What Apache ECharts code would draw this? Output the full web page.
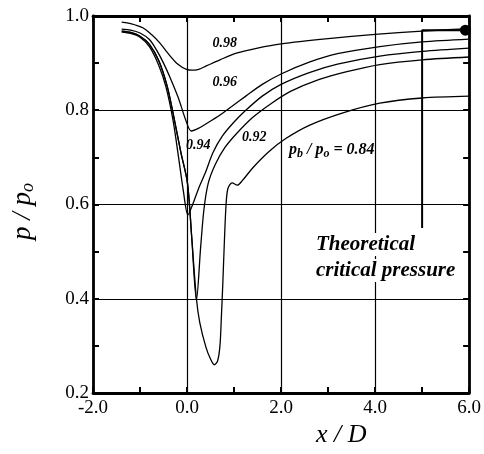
<!DOCTYPE html>
<html><head><meta charset="utf-8">
<script src="https://cdn.jsdelivr.net/npm/echarts@6/dist/echarts.min.js"></script>
<style>html,body{margin:0;padding:0;background:#fff}#c{width:484px;height:454px}</style>
</head><body><div id="c"></div>
<script>
// Curves p/po vs x/D for several back-pressure ratios pb/po
const curve098 = [[-1.39,0.987],[-1.2,0.984],[-0.94,0.975],[-0.75,0.96],[-0.58,0.943],[-0.4,0.92],[-0.2,0.898],[0.0,0.886],[0.1,0.885],[0.25,0.887],[0.41,0.894],[0.7,0.907],[1.05,0.921],[1.5,0.932],[2.0,0.941],[3.0,0.952],[4.0,0.961],[5.0,0.968],[6.0,0.973]];
const curve096 = [[-1.39,0.972],[-1.2,0.970],[-1.0,0.964],[-0.8,0.95],[-0.65,0.928],[-0.5,0.90],[-0.35,0.867],[-0.18,0.825],[-0.03,0.78],[0.09,0.756],[0.25,0.762],[0.45,0.774],[0.7,0.79],[0.95,0.808],[1.25,0.83],[1.6,0.855],[2.0,0.877],[2.6,0.902],[3.2,0.92],[4.1,0.935],[5.0,0.945],[6.0,0.951]];
const curve094 = [[-1.39,0.966],[-1.2,0.963],[-1.0,0.955],[-0.8,0.935],[-0.6,0.895],[-0.45,0.85],[-0.3,0.78],[-0.18,0.70],[-0.08,0.63],[0.02,0.578],[0.12,0.60],[0.25,0.635],[0.4,0.67],[0.55,0.71],[0.75,0.745],[1.0,0.775],[1.25,0.80],[1.6,0.83],[2.0,0.855],[2.6,0.88],[3.2,0.898],[4.1,0.915],[5.0,0.925],[6.0,0.932]];
const curve092 = [[-1.39,0.968],[-1.2,0.965],[-1.0,0.957],[-0.8,0.94],[-0.6,0.905],[-0.42,0.85],[-0.27,0.78],[-0.13,0.71],[0.01,0.645],[0.1,0.53],[0.2,0.397],[0.29,0.51],[0.36,0.59],[0.45,0.645],[0.6,0.685],[0.8,0.72],[1.05,0.75],[1.4,0.785],[1.8,0.815],[2.2,0.84],[2.8,0.865],[3.4,0.882],[4.1,0.897],[5.0,0.907],[6.0,0.913]];
const curve084 = [[-1.39,0.968],[-1.2,0.965],[-1.0,0.957],[-0.8,0.94],[-0.6,0.905],[-0.42,0.85],[-0.27,0.78],[-0.13,0.71],[0.01,0.645],[0.1,0.53],[0.2,0.40],[0.27,0.35],[0.4,0.298],[0.5,0.272],[0.58,0.26],[0.65,0.268],[0.7,0.30],[0.73,0.36],[0.76,0.43],[0.79,0.51],[0.83,0.6],[0.87,0.634],[0.96,0.646],[1.07,0.641],[1.17,0.65],[1.4,0.678],[1.75,0.713],[2.1,0.74],[2.6,0.768],[3.3,0.794],[4.1,0.815],[5.0,0.826],[6.0,0.83]];
// Theoretical critical pressure marker line and end dot
const criticalLine = [[5.0,0.55],[5.0,0.97],[5.85,0.97]];
const criticalDot = [[5.92,0.97]];
// Curve annotations [x, y, text]
const curveLabels = [[0.8,0.941,'0.98'],[0.8,0.860,'0.96'],[0.24,0.726,'0.94'],[1.43,0.743,'0.92']];
const ratioLabel = [3.08,0.716];
const theoryLabel = [[2.72,0.515,'Theoretical'],[2.72,0.460,'critical pressure']];
// Axes
const xRange = [-2, 6], xStep = 2;
const yRange = [0.2, 1.0], yStep = 0.2;

const SERIF = '"Liberation Serif","DejaVu Serif",serif';
const chart = echarts.init(document.getElementById('c'));
const lineSeries = (d) => ({type:'line', data:d, showSymbol:false, smooth:0.3,
  lineStyle:{color:'#000', width:1.3}, z:3, silent:true, animation:false});
const baseAxis = {
  axisLine:{show:true, onZero:false, lineStyle:{color:'#000', width:2.8}},
  axisTick:{show:true, inside:true, length:6, lineStyle:{color:'#000', width:2}},
  minorTick:{show:true, splitNumber:2, length:6, lineStyle:{color:'#000', width:2}},
};
const txt = {color:'#000', opacity:1, textBorderWidth:0, textBorderColor:'transparent', textShadowBlur:0};
const labelSeries = (data, label) => ({type:'scatter', data, symbolSize:0, z:6, silent:true,
  itemStyle:{opacity:1}, label});
chart.setOption({
  animation:false,
  backgroundColor:'#fff',
  grid:{left:93, right:13, top:16, bottom:61},
  xAxis:[
    Object.assign({type:'value', min:xRange[0], max:xRange[1], interval:xStep, position:'bottom',
      axisLabel:{formatter:v=>v.toFixed(1), color:'#000', fontFamily:SERIF, fontSize:19, margin:6},
      splitLine:{show:true, lineStyle:{color:'#000', width:1.2}}}, baseAxis),
    Object.assign({type:'value', min:xRange[0], max:xRange[1], interval:xStep, position:'top',
      axisLabel:{show:false}, splitLine:{show:false}}, baseAxis)
  ],
  yAxis:[
    Object.assign({type:'value', min:yRange[0], max:yRange[1], interval:yStep, position:'left',
      axisLabel:{formatter:v=>v.toFixed(1), color:'#000', fontFamily:SERIF, fontSize:19, margin:4},
      splitLine:{show:true, lineStyle:{color:'#000', width:1.2}}}, baseAxis),
    Object.assign({type:'value', min:yRange[0], max:yRange[1], interval:yStep, position:'right',
      axisLabel:{show:false}, splitLine:{show:false}}, baseAxis)
  ],
  series:[
    lineSeries(curve098), lineSeries(curve096), lineSeries(curve094), lineSeries(curve092), lineSeries(curve084),
    {type:'line', data:criticalLine, showSymbol:false, lineStyle:{color:'#000', width:2}, z:3, silent:true},
    {type:'scatter', data:criticalDot, symbolSize:11, itemStyle:{color:'#000', opacity:1}, z:4, silent:true},
    labelSeries(curveLabels.map(d=>[d[0],d[1]]), Object.assign({show:true, position:'inside', formatter:p=>curveLabels[p.dataIndex][2],
        fontFamily:SERIF, fontStyle:'italic', fontWeight:'bold', fontSize:14}, txt)),
    labelSeries([ratioLabel], Object.assign({show:true, position:'inside', formatter:'{i|p}{s|b}{i| / p}{s|o}{i| = 0.84}',
        rich:{i:Object.assign({fontFamily:SERIF, fontStyle:'italic', fontWeight:'bold', fontSize:16}, txt),
              s:Object.assign({fontFamily:SERIF, fontStyle:'italic', fontWeight:'bold', fontSize:12, padding:[8,0,0,0]}, txt)}}, txt)),
    labelSeries(theoryLabel.map(d=>[d[0],d[1]]), Object.assign({show:true, position:'inside', align:'left', formatter:p=>theoryLabel[p.dataIndex][2],
        fontFamily:SERIF, fontStyle:'italic', fontWeight:'bold', fontSize:21,
        backgroundColor:'#fff', padding:[1,1,1,1]}, txt))
  ],
  graphic:[
    {type:'text', left:316, top:422, style:{text:'x / D', font:'italic 26px "Liberation Serif", serif', fill:'#000'}},
    {type:'text', x:9, y:240, rotation:Math.PI/2,
      style:{text:'{i|p / p}{s|o}', rich:{i:{font:'italic 27px "Liberation Serif", serif', fill:'#000'},
        s:{font:'italic 18px "Liberation Serif", serif', fill:'#000', padding:[10,0,0,0]}}}}
  ]
});
</script></body></html>
